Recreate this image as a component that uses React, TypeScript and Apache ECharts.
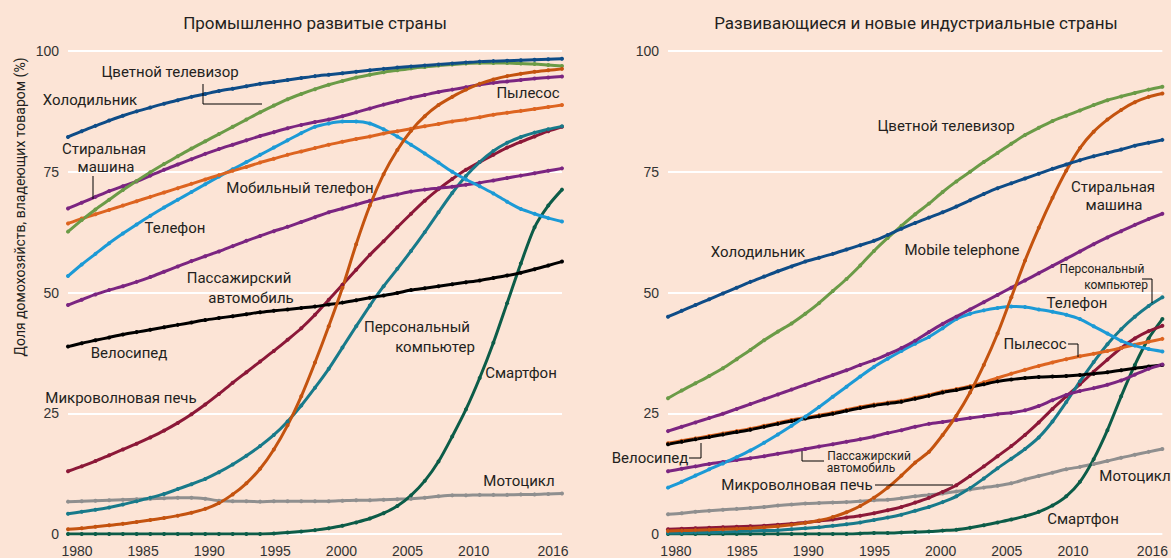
import React, { useEffect, useRef } from "react";
import * as echarts from "echarts";

const years = [
  1980, 1981, 1982, 1983, 1984, 1985, 1986, 1987, 1988, 1989,
  1990, 1991, 1992, 1993, 1994, 1995, 1996, 1997, 1998, 1999,
  2000, 2001, 2002, 2003, 2004, 2005, 2006, 2007, 2008, 2009,
  2010, 2011, 2012, 2013, 2014, 2015, 2016,
];
const xTickLabels = [1980, 1985, 1990, 1995, 2000, 2005, 2010, 2016];

// Промышленно развитые страны
const devFridge = [82.2,83.4,84.5,85.6,86.6,87.5,88.3,89.1,89.8,90.5, 91.1,91.7,92.2,92.7,93.2,93.6,94.0,94.4,94.8,95.1, 95.4,95.7,96.0,96.3,96.6,96.8,97.0,97.2,97.4,97.6, 97.8,97.9,98.0,98.1,98.2,98.3,98.4];
const devTV = [62.6,65.0,67.2,69.2,71.2,73.1,74.9,76.6,78.2,79.8, 81.3,82.8,84.3,85.8,87.3,88.7,90.0,91.1,92.1,93.0, 93.8,94.5,95.1,95.6,96.0,96.4,96.7,97.0,97.2,97.4, 97.5,97.5,97.5,97.4,97.3,97.1,96.9];
const devWasher = [67.4,68.6,69.8,71.0,72.0,73.0,74.2,75.4,76.5,77.6, 78.7,79.7,80.6,81.5,82.4,83.2,84.0,84.7,85.3,85.8, 86.5,87.3,88.1,88.9,89.6,90.3,90.9,91.5,92.0,92.5, 93.0,93.4,93.7,94.0,94.3,94.5,94.7];
const devVacuum = [64.3,65.3,66.2,67.1,68.0,68.9,69.8,70.7,71.6,72.5, 73.4,74.3,75.2,76.0,76.9,77.7,78.5,79.2,79.9,80.6, 81.2,81.8,82.3,82.9,83.4,83.9,84.4,84.9,85.4,85.8, 86.3,86.8,87.2,87.6,88.0,88.4,88.8];
const devPhone = [53.4,55.8,58.0,60.2,62.2,64.1,65.9,67.6,69.2,70.8, 72.4,74.0,75.5,77.0,78.5,80.0,81.5,83.0,84.3,85.0, 85.4,85.4,85.0,83.8,82.3,80.6,78.8,76.9,75.0,73.4, 72.0,70.5,68.8,67.3,66.3,65.4,64.7];
const devMobile = [1.0,1.2,1.5,1.8,2.1,2.5,2.9,3.3,3.8,4.4, 5.2,6.4,8.2,10.5,13.5,17.5,22.5,28.5,35.5,43.0, 51.0,60.0,68.0,74.5,79.5,83.5,86.5,88.8,90.5,92.0, 93.2,94.1,94.8,95.3,95.7,96.0,96.3];
const devCar = [47.4,48.5,49.6,50.5,51.3,52.2,53.2,54.3,55.4,56.5, 57.5,58.5,59.6,60.7,61.7,62.7,63.6,64.6,65.6,66.6, 67.4,68.2,69.0,69.7,70.3,70.9,71.3,71.6,71.9,72.3, 72.7,73.2,73.7,74.2,74.7,75.2,75.7];
const devBike = [38.8,39.5,40.1,40.7,41.3,41.8,42.3,42.8,43.3,43.8, 44.3,44.7,45.1,45.5,45.9,46.2,46.5,46.8,47.1,47.5, 47.9,48.4,48.9,49.4,49.9,50.5,50.9,51.3,51.7,52.1, 52.5,53.0,53.5,54.1,54.8,55.6,56.4];
const devMicrowave = [13.0,14.0,15.1,16.3,17.5,18.7,20.0,21.4,23.0,24.8, 26.8,29.0,31.3,33.5,35.7,37.9,40.2,42.6,45.4,48.5, 51.6,54.7,57.8,60.6,63.5,66.3,69.0,71.4,73.5,75.4, 77.0,78.5,80.0,81.2,82.3,83.4,84.3];
const devPC = [4.2,4.6,5.0,5.5,6.1,6.8,7.5,8.3,9.3,10.3, 11.4,12.8,14.4,16.2,18.2,20.5,23.3,26.6,30.3,34.2, 38.6,43.0,47.3,51.3,54.9,58.6,62.5,66.6,70.6,74.1, 77.0,79.3,81.0,82.2,83.1,83.8,84.4];
const devSmartphone = [0,0,0,0,0,0,0,0,0,0, 0,0,0,0,0,0.1,0.3,0.5,0.8,1.2, 1.7,2.4,3.2,4.3,5.8,8.0,11.0,15.0,20.2,25.8, 32.3,39.6,47.8,56.0,63.5,68.0,71.3];
const devMoto = [6.7,6.8,6.9,7.0,7.1,7.2,7.3,7.4,7.5,7.5, 7.3,6.9,6.8,6.8,6.7,6.8,6.8,6.8,6.8,6.8, 6.9,7.0,7.0,7.1,7.2,7.3,7.5,7.8,8.0,8.0, 8.1,8.1,8.1,8.2,8.2,8.3,8.4];

// Развивающиеся и новые индустриальные страны
const emFridge = [45.0,46.2,47.4,48.6,49.8,51.0,52.2,53.3,54.4,55.4, 56.4,57.2,58.0,58.9,59.8,60.7,61.9,63.2,64.4,65.5, 66.6,67.8,69.1,70.4,71.6,72.6,73.6,74.6,75.6,76.5, 77.4,78.2,78.9,79.6,80.4,81.0,81.6];
const emTV = [28.1,29.7,31.2,32.7,34.3,36.2,38.1,40.1,41.9,43.6, 45.6,47.8,50.3,52.8,55.6,58.6,61.3,63.8,66.2,68.4, 70.8,73.0,75.0,77.0,78.9,80.8,82.6,84.1,85.5,86.6, 87.7,88.8,89.8,90.6,91.3,92.0,92.6];
const emPurpleUpper = [21.3,22.2,23.1,24.0,24.9,25.9,26.9,27.9,28.9,29.9, 30.9,31.9,32.9,33.9,35.0,36.0,37.2,38.5,40.0,41.8, 43.5,45.0,46.5,48.0,49.5,51.0,52.5,54.0,55.5,57.0, 58.5,60.0,61.4,62.7,64.0,65.2,66.3];
const emBike = [18.6,19.1,19.6,20.1,20.6,21.1,21.6,22.2,22.8,23.4, 23.9,24.4,24.9,25.5,26.1,26.6,27.0,27.4,28.0,28.6, 29.3,29.8,30.4,31.0,31.6,32.0,32.3,32.5,32.6,32.7, 32.9,33.2,33.5,33.9,34.3,34.7,35.0];
const emVacuum = [18.8,19.3,19.8,20.3,20.8,21.3,21.8,22.4,23.0,23.6, 24.1,24.6,25.1,25.7,26.3,26.8,27.2,27.6,28.2,28.8, 29.5,30.0,30.6,31.4,32.3,33.2,34.0,34.8,35.5,36.2, 36.8,37.3,37.9,38.5,39.2,39.8,40.4];
const emCar = [13.0,13.5,14.0,14.5,14.9,15.3,15.7,16.1,16.6,17.1, 17.6,18.1,18.6,19.1,19.6,20.2,20.9,21.5,22.2,22.8, 23.2,23.6,24.0,24.4,24.8,25.1,25.6,26.5,27.7,28.8, 29.6,30.2,30.9,31.8,33.0,34.2,35.1];
const emPhone = [9.6,10.8,12.1,13.4,14.6,15.9,17.3,18.9,20.6,22.4, 24.3,26.3,28.4,30.5,32.6,34.6,36.3,37.9,39.4,40.8, 42.6,44.5,45.6,46.3,46.8,47.1,47.0,46.5,46.0,45.4, 44.5,43.0,41.5,40.0,39.0,38.3,37.8];
const emMoto = [4.1,4.3,4.6,4.8,5.0,5.2,5.4,5.6,5.9,6.1, 6.3,6.4,6.5,6.6,6.8,7.0,7.1,7.4,7.8,8.1, 8.4,8.8,9.2,9.6,10.0,10.5,11.3,12.0,12.7,13.4, 13.9,14.5,15.1,15.8,16.4,17.0,17.6];
const emMicrowave = [1.0,1.1,1.2,1.3,1.4,1.5,1.6,1.7,1.9,2.1, 2.4,2.7,3.0,3.4,3.8,4.3,4.9,5.6,6.5,7.5, 8.7,10.1,12.0,14.0,16.1,18.2,20.5,23.1,25.9,28.5, 31.0,33.6,36.1,38.5,40.5,42.0,43.1];
const emSteep = [0.6,0.7,0.8,0.9,1.0,1.1,1.2,1.4,1.6,1.9, 2.3,2.8,3.5,4.5,5.8,7.5,9.6,12.1,14.8,17.0, 20.5,24.5,29.3,35.0,41.5,49.0,56.6,63.4,69.6,75.2, 79.9,83.3,85.8,87.8,89.4,90.5,91.2];
const emPC = [0.2,0.2,0.3,0.3,0.4,0.5,0.6,0.7,0.8,1.0, 1.2,1.4,1.7,2.0,2.4,2.9,3.4,4.0,4.8,5.6, 6.6,7.8,9.5,11.5,13.6,15.6,17.6,20.0,23.3,27.3, 31.6,35.6,39.3,42.4,45.0,47.2,49.0];
const emSmartphone = [0,0,0,0,0,0,0,0,0,0, 0,0,0,0,0.1,0.2,0.2,0.3,0.4,0.5, 0.7,0.9,1.3,1.8,2.4,3.0,3.7,4.6,5.9,7.8, 10.8,15.5,21.5,28.5,35.0,40.5,44.5];

const COL = {
  bg: "#FCE4D6",
  fridge: "#0E4C87",
  tv: "#6B9B47",
  purple: "#7B2581",
  vacuum: "#DD6420",
  mobile: "#C4530F",
  phone: "#1C9AD6",
  bike: "#000000",
  micro: "#8C1838",
  pc: "#187A8A",
  smart: "#0C5C48",
  moto: "#8F8F8F",
  text: "#231F20",
};

const TXT_FONT = "Roboto, 'Noto Sans', sans-serif";
const TICK_FONT = "'Liberation Sans', Arial, sans-serif";

function line(name: string, data: number[], color: string, panel: number) {
  return {
    type: "line",
    name,
    xAxisIndex: panel === 0 ? 0 : 2,
    yAxisIndex: panel,
    data: years.map((y, i) => [y, data[i]]),
    smooth: 0.25,
    symbol: "circle",
    symbolSize: 4,
    showSymbol: true,
    lineStyle: { color, width: 3 },
    itemStyle: { color },
    silent: true,
  };
}

function label(text: string, x: number, y: number, size = 15) {
  return {
    type: "text",
    x,
    y,
    z: 100,
    style: {
      text,
      fill: COL.text,
      fontSize: size,
      fontFamily: TXT_FONT,
      textAlign: "center",
      textVerticalAlign: "middle",
    },
  };
}

function leader(points: number[][]) {
  return {
    type: "polyline",
    z: 100,
    shape: { points },
    style: { stroke: "#000", lineWidth: 1, fill: null },
  };
}

function yAxis(gridIndex: number) {
  return {
    type: "value",
    gridIndex,
    min: 0,
    max: 100,
    interval: 25,
    axisLine: { show: false },
    axisTick: { show: false },
    axisLabel: {
      color: "#333",
      fontSize: 14,
      fontFamily: TICK_FONT,
      margin: 9,
      padding: [5, 0, 0, 0],
    },
    splitLine: { lineStyle: { color: "#FFFFFF", width: 2 } },
  };
}

function dataX(gridIndex: number) {
  return {
    type: "value",
    gridIndex,
    min: 1980,
    max: 2016,
    show: false,
    splitLine: { show: false },
  };
}

function labelX(gridIndex: number, min: number, max: number) {
  return {
    type: "value",
    gridIndex,
    position: "bottom",
    min,
    max,
    axisLine: { show: false },
    axisTick: { show: false },
    splitLine: { show: false },
    axisLabel: {
      customValues: xTickLabels,
      formatter: (v: number) => String(Math.round(v)),
      color: "#333",
      fontSize: 14,
      fontFamily: TICK_FONT,
      margin: 10,
    },
  };
}

export default function App() {
  const ref = useRef<HTMLDivElement>(null);
  useEffect(() => {
    const chart = echarts.init(ref.current!, null, { renderer: "svg" });
    const option = {
      animation: false,
      backgroundColor: COL.bg,
      grid: [
        { left: 68, top: 51, width: 494, height: 484 },
        { left: 668, top: 51, width: 495, height: 484 },
      ],
      xAxis: [dataX(0), labelX(0, 1979.32, 2016.68), dataX(1), labelX(1, 1979.4, 2016.75)],
      yAxis: [yAxis(0), yAxis(1)],
      series: [
        line("Мотоцикл", devMoto, COL.moto, 0),
        line("Смартфон", devSmartphone, COL.smart, 0),
        line("Микроволновая печь", devMicrowave, COL.micro, 0),
        line("Персональный компьютер", devPC, COL.pc, 0),
        line("Велосипед", devBike, COL.bike, 0),
        line("Пассажирский автомобиль", devCar, COL.purple, 0),
        line("Телефон", devPhone, COL.phone, 0),
        line("Пылесос", devVacuum, COL.vacuum, 0),
        line("Стиральная машина", devWasher, COL.purple, 0),
        line("Цветной телевизор", devTV, COL.tv, 0),
        line("Холодильник", devFridge, COL.fridge, 0),
        line("Мобильный телефон", devMobile, COL.mobile, 0),

        line("Мотоцикл", emMoto, COL.moto, 1),
        line("Смартфон", emSmartphone, COL.smart, 1),
        line("Микроволновая печь", emMicrowave, COL.micro, 1),
        line("Персональный компьютер", emPC, COL.pc, 1),
        line("Пылесос", emVacuum, COL.vacuum, 1),
        line("Велосипед", emBike, COL.bike, 1),
        line("Пассажирский автомобиль", emCar, COL.purple, 1),
        line("Телефон", emPhone, COL.phone, 1),
        line("Mobile telephone", emPurpleUpper, COL.purple, 1),
        line("Стиральная машина", emSteep, COL.mobile, 1),
        line("Цветной телевизор", emTV, COL.tv, 1),
        line("Холодильник", emFridge, COL.fridge, 1),
      ],
      graphic: [
        label("Промышленно развитые страны", 315, 23, 17),
        label("Развивающиеся и новые индустриальные страны", 916, 23, 17),
        {
          type: "text",
          x: 20,
          y: 207,
          rotation: Math.PI / 2,
          z: 100,
          style: {
            text: "Доля домохозяйств, владеющих товаром (%)",
            fill: COL.text,
            fontSize: 14,
            fontFamily: TXT_FONT,
            textAlign: "center",
            textVerticalAlign: "middle",
          },
        },
        // left panel
        label("Цветной телевизор", 170, 72),
        leader([[203, 84], [203, 104], [262, 104]]),
        label("Холодильник", 90, 100),
        label("Стиральная", 104, 149),
        label("машина", 106, 167),
        leader([[93, 176], [93, 199]]),
        label("Пылесос", 528, 93),
        label("Мобильный телефон", 300, 188),
        label("Телефон", 175, 228),
        label("Пассажирский", 239, 278),
        label("автомобиль", 251, 298),
        label("Велосипед", 129, 353),
        label("Персональный", 417, 327),
        label("компьютер", 435, 347),
        label("Смартфон", 521, 373),
        label("Микроволновая печь", 121, 398),
        label("Мотоцикл", 519, 481),
        // right panel
        label("Цветной телевизор", 946, 126),
        label("Холодильник", 758, 252),
        label("Mobile telephone", 962, 250),
        label("Стиральная", 1113, 187),
        label("машина", 1114, 205),
        label("Персональный", 1102, 269, 12),
        label("компьютер", 1116, 285, 12),
        leader([[1142, 279], [1152, 279], [1152, 303]]),
        label("Телефон", 1077, 303),
        label("Пылесос", 1035, 344),
        leader([[1068, 344], [1078, 344], [1078, 357]]),
        label("Велосипед", 650, 458),
        leader([[689, 458], [701, 458], [701, 443]]),
        label("Пассажирский", 869, 456, 12),
        label("автомобиль", 861, 468, 12),
        leader([[824, 461], [802, 461], [802, 451]]),
        label("Микроволновая печь", 797, 485),
        leader([[875, 485], [953, 485]]),
        label("Мотоцикл", 1135, 476),
        label("Смартфон", 1083, 519),
      ],
    };
    chart.setOption(option as any);
    return () => chart.dispose();
  }, []);
  return (
    <div
      ref={ref}
      style={{ position: "fixed", left: 0, top: 0, width: 1171, height: 558 }}
    />
  );
}
